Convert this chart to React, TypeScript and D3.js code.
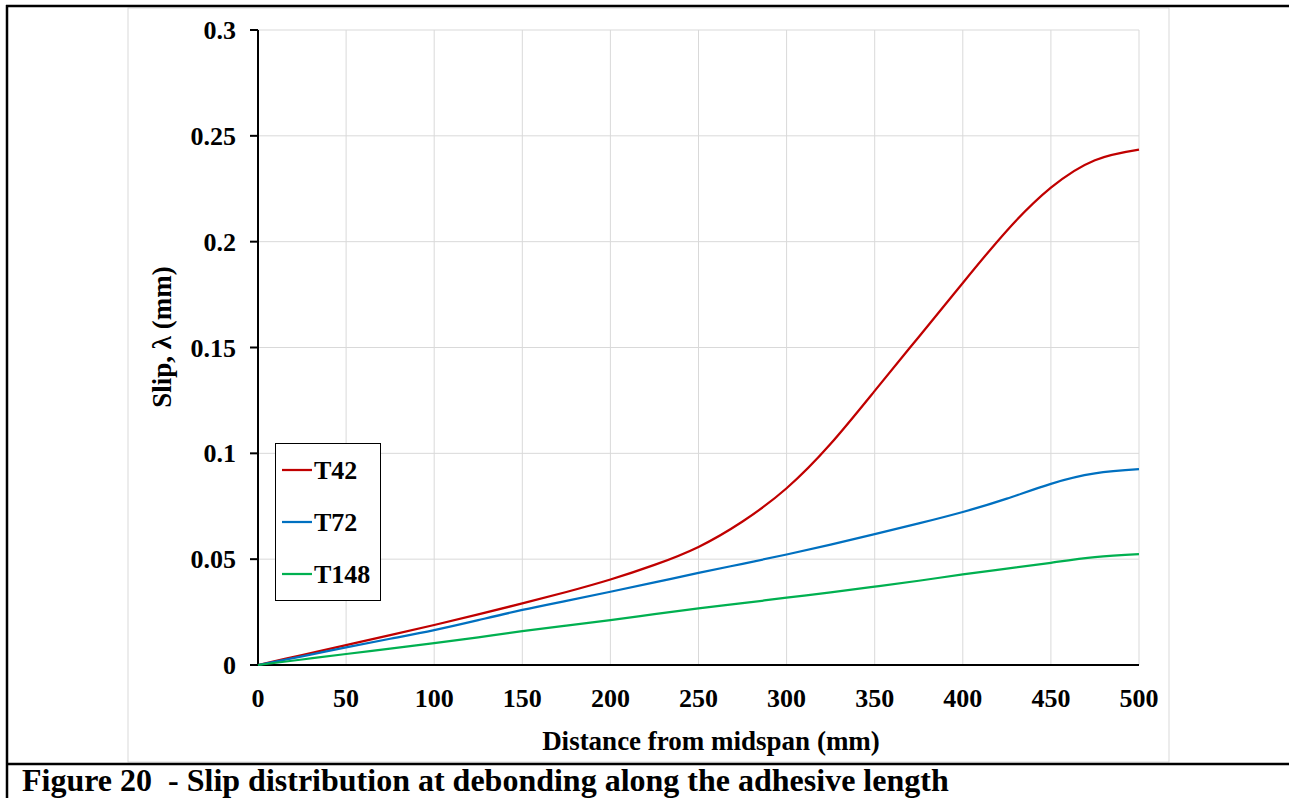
import React from "react";
import * as d3 from "d3";

// Slip along the adhesive length, sampled every 25 mm from midspan
const distance = [0, 25, 50, 75, 100, 125, 150, 175, 200, 225, 250, 275, 300, 325, 350, 375, 400, 425, 450, 475, 500];
const slipT42 = [0, 0.0047, 0.0094, 0.0141, 0.0189, 0.0239, 0.0291, 0.0345, 0.0404, 0.0473, 0.0558, 0.0678, 0.0835, 0.1045, 0.1295, 0.155, 0.1805, 0.2052, 0.2255, 0.2385, 0.2435];
const slipT72 = [0, 0.0041, 0.0083, 0.0124, 0.0165, 0.0212, 0.026, 0.0303, 0.0346, 0.039, 0.0435, 0.0478, 0.0522, 0.0569, 0.0618, 0.0669, 0.0723, 0.0786, 0.0856, 0.0905, 0.0925];
const slipT148 = [0, 0.0026, 0.0052, 0.0077, 0.0103, 0.0131, 0.016, 0.0186, 0.0212, 0.024, 0.0267, 0.0292, 0.0318, 0.0343, 0.037, 0.0398, 0.0428, 0.0455, 0.0483, 0.051, 0.0524];

const seriesNames = ["T42", "T72", "T148"];
const seriesColors = ["#C00000", "#0070C0", "#00B050"];
const seriesValues = [slipT42, slipT72, slipT148];

const xTicks = [0, 50, 100, 150, 200, 250, 300, 350, 400, 450, 500];
const yTicks = [0, 0.05, 0.1, 0.15, 0.2, 0.25, 0.3];

const xTitle = "Distance from midspan (mm)";
const yTitle = "Slip, \u03bb (mm)";
const caption = "Figure 20  - Slip distribution at debonding along the adhesive length";

const W = 1289;
const H = 798;
const FONT = "'Liberation Serif', 'Times New Roman', serif";

export default function App() {
  const x = d3.scaleLinear().domain([0, 500]).range([258, 1139]);
  const y = d3.scaleLinear().domain([0, 0.3]).range([665, 30]);

  const line = d3
    .line<[number, number]>()
    .x((d) => x(d[0]))
    .y((d) => y(d[1]))
    .curve(d3.curveNatural);

  const fmtY = (v: number) => (v === 0 ? "0" : String(+v.toFixed(2)));

  return (
    <svg
      width={W}
      height={H}
      style={{ position: "absolute", left: 0, top: 0, background: "#fff" }}
      fontFamily={FONT}
    >
      {/* chart area frame */}
      <rect x={128} y={8} width={1041} height={754} fill="#fff" stroke="#d9d9d9" strokeWidth={1} />

      {/* gridlines */}
      {xTicks.map((t) => (
        <line key={"gx" + t} x1={x(t)} x2={x(t)} y1={y(0.3)} y2={y(0)} stroke="#d9d9d9" strokeWidth={1} />
      ))}
      {yTicks.map((t) => (
        <line key={"gy" + t} x1={x(0)} x2={x(500)} y1={y(t)} y2={y(t)} stroke="#d9d9d9" strokeWidth={1} />
      ))}

      {/* axes */}
      <line x1={x(0)} x2={x(0)} y1={y(0.3)} y2={y(0)} stroke="#000" strokeWidth={2} />
      <line x1={x(0) - 8} x2={x(500)} y1={y(0)} y2={y(0)} stroke="#000" strokeWidth={2} />
      {yTicks.map((t) => (
        <line key={"ty" + t} x1={x(0) - 8} x2={x(0)} y1={y(t)} y2={y(t)} stroke="#000" strokeWidth={2} />
      ))}

      {/* tick labels */}
      {yTicks.map((t) => (
        <text key={"ly" + t} x={236} y={y(t)} dy="0.35em" textAnchor="end" fontSize={26} fontWeight="bold">
          {fmtY(t)}
        </text>
      ))}
      {xTicks.map((t) => (
        <text key={"lx" + t} x={x(t)} y={707} textAnchor="middle" fontSize={26} fontWeight="bold">
          {t}
        </text>
      ))}

      {/* axis titles */}
      <text x={711} y={750} textAnchor="middle" fontSize={27} fontWeight="bold">
        {xTitle}
      </text>
      <text
        transform={`translate(171, 337) rotate(-90)`}
        textAnchor="middle"
        fontSize={27}
        fontWeight="bold"
      >
        {yTitle}
      </text>

      {/* series */}
      {seriesValues.map((vals, i) => (
        <path
          key={seriesNames[i]}
          d={line(distance.map((d, j) => [d, vals[j]]) as [number, number][]) || ""}
          fill="none"
          stroke={seriesColors[i]}
          strokeWidth={2.25}
        />
      ))}

      {/* legend */}
      <rect x={275.5} y={443.5} width={105} height={157} fill="#fff" stroke="#000" strokeWidth={1} />
      {seriesNames.map((n, i) => (
        <g key={"lg" + n} transform={`translate(0, ${470 + i * 52})`}>
          <line x1={282} x2={312} y1={0} y2={0} stroke={seriesColors[i]} strokeWidth={2.25} />
          <text x={314} y={0} dy="0.35em" fontSize={26} fontWeight="bold">
            {n}
          </text>
        </g>
      ))}

      {/* outer figure frame */}
      <line x1={7} x2={7} y1={5} y2={798} stroke="#000" strokeWidth={2.5} />
      <line x1={6} x2={W} y1={6} y2={6} stroke="#000" strokeWidth={2.5} />
      <line x1={6} x2={W} y1={764} y2={764} stroke="#000" strokeWidth={2.5} />

      {/* caption */}
      <text x={22} y={791} fontSize={32} fontWeight="bold" style={{ whiteSpace: "pre" }}>
        {caption}
      </text>
    </svg>
  );
}
